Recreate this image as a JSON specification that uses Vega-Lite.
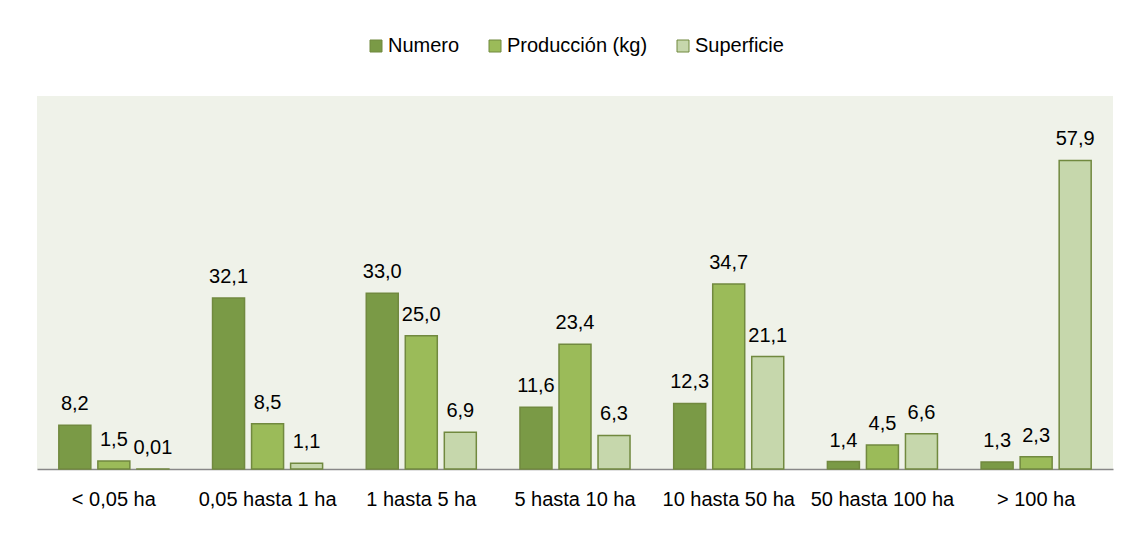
{
  "$schema": "https://vega.github.io/schema/vega-lite/v6.json",
  "width": 1076,
  "height": 373,
  "autosize": {"type": "none"},
  "padding": {"left": 37, "top": 96, "right": 17, "bottom": 69},
  "background": "white",
  "config": {
    "view": {"fill": "#EFF2E9", "stroke": null},
    "font": "Liberation Sans"
  },
  "data": {
    "values": [
      {"cat": "< 0,05 ha", "serie": "Numero", "valor": 8.2, "label": "8,2"},
      {"cat": "< 0,05 ha", "serie": "Producción (kg)", "valor": 1.5, "label": "1,5"},
      {"cat": "< 0,05 ha", "serie": "Superficie", "valor": 0.01, "label": "0,01"},
      {"cat": "0,05 hasta  1 ha", "serie": "Numero", "valor": 32.1, "label": "32,1"},
      {"cat": "0,05 hasta  1 ha", "serie": "Producción (kg)", "valor": 8.5, "label": "8,5"},
      {"cat": "0,05 hasta  1 ha", "serie": "Superficie", "valor": 1.1, "label": "1,1"},
      {"cat": "1 hasta 5 ha", "serie": "Numero", "valor": 33.0, "label": "33,0"},
      {"cat": "1 hasta 5 ha", "serie": "Producción (kg)", "valor": 25.0, "label": "25,0"},
      {"cat": "1 hasta 5 ha", "serie": "Superficie", "valor": 6.9, "label": "6,9"},
      {"cat": "5 hasta 10 ha", "serie": "Numero", "valor": 11.6, "label": "11,6"},
      {"cat": "5 hasta 10 ha", "serie": "Producción (kg)", "valor": 23.4, "label": "23,4"},
      {"cat": "5 hasta 10 ha", "serie": "Superficie", "valor": 6.3, "label": "6,3"},
      {"cat": "10 hasta 50 ha", "serie": "Numero", "valor": 12.3, "label": "12,3"},
      {"cat": "10 hasta 50 ha", "serie": "Producción (kg)", "valor": 34.7, "label": "34,7"},
      {"cat": "10 hasta 50 ha", "serie": "Superficie", "valor": 21.1, "label": "21,1"},
      {"cat": "50 hasta 100 ha", "serie": "Numero", "valor": 1.4, "label": "1,4"},
      {"cat": "50 hasta 100 ha", "serie": "Producción (kg)", "valor": 4.5, "label": "4,5"},
      {"cat": "50 hasta 100 ha", "serie": "Superficie", "valor": 6.6, "label": "6,6"},
      {"cat": "> 100 ha", "serie": "Numero", "valor": 1.3, "label": "1,3"},
      {"cat": "> 100 ha", "serie": "Producción (kg)", "valor": 2.3, "label": "2,3"},
      {"cat": "> 100 ha", "serie": "Superficie", "valor": 57.9, "label": "57,9"}
    ]
  },
  "encoding": {
    "x": {
      "field": "cat",
      "type": "nominal",
      "sort": null,
      "scale": {"paddingInner": 0.284, "paddingOuter": 0.142},
      "axis": {
        "title": null,
        "labelAngle": 0,
        "ticks": false,
        "labelPadding": 36,
        "labelBaseline": "alphabetic",
        "labelFontSize": 20,
        "labelColor": "#000000",
        "labelFont": "Liberation Sans",
        "domainColor": "#888888",
        "domainWidth": 1.5,
        "grid": false
      }
    },
    "xOffset": {
      "field": "serie",
      "type": "nominal",
      "scale": {"domain": ["Numero", "Producción (kg)", "Superficie"], "paddingInner": 0.18, "paddingOuter": 0}
    },
    "y": {
      "field": "valor",
      "type": "quantitative",
      "scale": {"domain": [0, 70], "nice": false},
      "axis": null
    }
  },
  "layer": [
    {
      "mark": {"type": "bar", "stroke": "#71893F", "strokeWidth": 1.5},
      "encoding": {
        "color": {
          "field": "serie",
          "type": "nominal",
          "scale": {"domain": ["Numero", "Producción (kg)", "Superficie"], "range": ["#7A9A46", "#9BBB59", "#C6D7AC"]},
          "legend": {
            "title": null,
            "orient": "none",
            "legendX": 329,
            "legendY": -60,
            "direction": "horizontal",
            "columns": 3,
            "columnPadding": 25,
            "symbolType": "square",
            "symbolSize": 144,
            "symbolStrokeColor": "#71893F",
            "symbolStrokeWidth": 1,
            "labelFontSize": 20,
            "labelFont": "Liberation Sans",
            "labelColor": "#000000",
            "labelOffset": 2,
            "labelLimit": 300
          }
        }
      }
    },
    {
      "mark": {"type": "text", "baseline": "alphabetic", "dy": -15, "fontSize": 20, "font": "Liberation Sans", "color": "#000000"},
      "encoding": {
        "text": {"field": "label"}
      }
    }
  ]
}
